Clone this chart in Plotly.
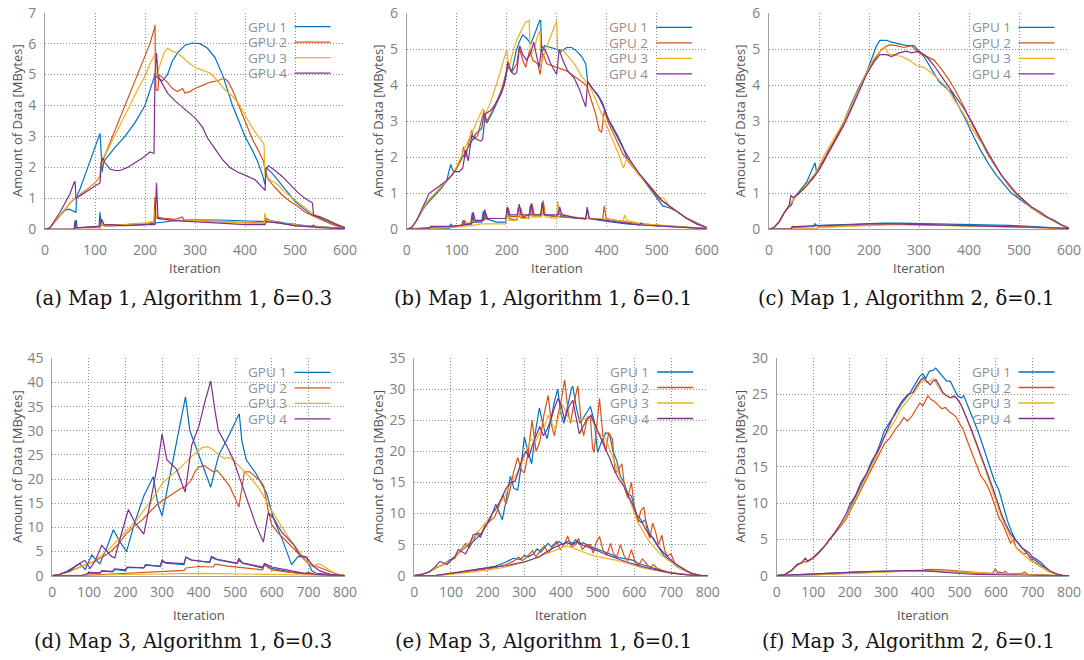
import plotly.graph_objects as go

# ---------------- DATA (iteration, MBytes) ----------------
GPU_LABELS = ["GPU 1", "GPU 2", "GPU 3", "GPU 4"]
CAPTIONS = [
    "(a) Map 1, Algorithm 1, δ=0.3",
    "(b) Map 1, Algorithm 1, δ=0.1",
    "(c) Map 1, Algorithm 2, δ=0.1",
    "(d) Map 3, Algorithm 1, δ=0.3",
    "(e) Map 3, Algorithm 1, δ=0.1",
    "(f) Map 3, Algorithm 2, δ=0.1",
]
X_TITLE = "Iteration"
Y_TITLE = "Amount of Data [MBytes]"
X_MAX = [600, 600, 600, 800, 800, 800]
Y_MAX = [7, 6, 6, 45, 35, 30]
Y_DTICK = [1, 1, 1, 5, 5, 5]
X_DTICK = [100, 100, 100, 100, 100, 100]

# ---- (a) ----
a_g1_main = [(0,0),(10,0.05),(20,0.25),(30,0.45),(40,0.62),(48,0.65),(55,0.6),(62,0.55),(63,1.05),(70,1.3),(80,1.75),(90,2.2),(100,2.65),(110,3.1),(112,2.6),(114,1.85),(118,2.2),(125,2.35),(140,2.65),(160,3.0),(180,3.45),(200,4.0),(212,4.6),(220,5.0),(225,4.9),(235,4.8),(245,5.0),(255,5.45),(265,5.7),(280,5.95),(295,6.02),(310,6.0),(325,5.85),(340,5.55),(355,5.0),(365,4.5),(375,4.0),(390,3.4),(400,3.0),(415,2.55),(425,2.2),(435,1.75),(440,1.45),(442,2.0),(455,1.8),(470,1.5),(485,1.2),(500,0.9),(515,0.7),(530,0.5),(545,0.4),(560,0.3),(575,0.18),(590,0.1),(600,0.05)]
a_g2_main = [(0,0),(10,0.05),(20,0.25),(30,0.45),(40,0.65),(50,0.85),(60,1.0),(80,1.25),(100,1.5),(110,1.7),(112,2.15),(115,2.2),(120,2.4),(130,2.8),(140,3.2),(150,3.6),(160,4.0),(170,4.4),(180,4.8),(190,5.2),(200,5.6),(210,6.0),(218,6.45),(220,6.6),(221,5.0),(222,4.5),(226,4.5),(228,5.0),(235,4.9),(245,4.75),(255,4.55),(265,4.45),(275,4.55),(280,4.4),(290,4.45),(300,4.55),(315,4.65),(330,4.75),(345,4.8),(358,4.88),(365,4.8),(375,4.5),(385,4.1),(395,3.7),(405,3.25),(415,2.9),(425,2.6),(437,2.2),(440,1.9),(447,1.6),(460,1.35),(475,1.1),(490,0.9),(505,0.75),(520,0.55),(540,0.4),(560,0.25),(575,0.15),(590,0.08),(600,0.05)]
a_g3_main = [(0,0),(10,0.05),(20,0.25),(30,0.45),(40,0.65),(50,0.85),(60,1.0),(80,1.25),(100,1.5),(110,1.7),(115,2.3),(125,2.55),(140,3.05),(155,3.5),(170,4.0),(185,4.5),(200,4.95),(210,5.35),(218,5.6),(220,5.65),(222,4.95),(230,5.3),(238,5.7),(245,5.85),(255,5.75),(265,5.7),(275,5.55),(290,5.35),(305,5.2),(320,5.1),(330,5.05),(345,4.8),(360,4.5),(375,4.3),(390,4.0),(405,3.55),(420,3.15),(438,2.75),(440,1.75),(450,1.6),(465,1.45),(480,1.2),(500,0.95),(520,0.7),(535,0.5),(550,0.4),(565,0.3),(580,0.18),(600,0.05)]
a_g4_main = [(0,0),(10,0.05),(20,0.3),(30,0.55),(40,0.85),(50,1.15),(58,1.5),(60,1.55),(62,1.0),(80,1.2),(100,1.4),(110,1.5),(113,2.2),(116,2.3),(120,2.15),(130,1.95),(140,1.9),(150,1.9),(165,2.0),(180,2.15),(195,2.3),(210,2.5),(218,2.45),(220,5.0),(223,5.7),(226,4.95),(235,4.7),(245,4.4),(260,4.15),(275,3.95),(290,3.75),(300,3.6),(315,3.3),(325,2.95),(340,2.6),(355,2.25),(370,2.0),(385,1.85),(400,1.75),(420,1.6),(438,1.3),(440,1.25),(442,1.95),(447,2.05),(460,1.9),(475,1.7),(490,1.45),(505,1.2),(520,1.0),(535,0.85),(537,0.45),(550,0.4),(565,0.3),(580,0.18),(600,0.05)]
a_g1_small = [(0,0),(60,0),(61,0.27),(63,0.27),(64,0.05),(108,0.08),(110,0.55),(112,0.15),(120,0.1),(160,0.12),(200,0.15),(218,0.2),(220,0.2),(230,0.22),(260,0.28),(300,0.3),(350,0.3),(400,0.28),(440,0.25),(442,0.35),(450,0.28),(480,0.2),(520,0.12),(560,0.07),(600,0.03)]
a_g2_small = [(0,0),(110,0),(113,0.3),(118,0.15),(160,0.15),(200,0.2),(218,0.25),(220,1.05),(222,0.4),(240,0.35),(260,0.32),(275,0.4),(278,0.3),(300,0.3),(350,0.25),(400,0.22),(438,0.2),(440,0.45),(443,0.25),(470,0.2),(500,0.12),(540,0.07),(600,0.03)]
a_g3_small = [(0,0),(110,0),(113,0.2),(118,0.1),(160,0.15),(200,0.2),(218,0.25),(220,0.6),(223,0.35),(260,0.3),(300,0.28),(350,0.25),(400,0.2),(438,0.18),(440,0.52),(443,0.3),(470,0.2),(500,0.15),(540,0.08),(600,0.03)]
a_g4_small = [(0,0),(58,0),(60,0.28),(62,0.05),(110,0.1),(113,0.33),(118,0.15),(160,0.12),(200,0.15),(220,0.15),(223,1.5),(226,0.35),(260,0.28),(300,0.25),(350,0.2),(400,0.15),(440,0.15),(443,0.25),(470,0.2),(500,0.12),(535,0.08),(537,0.15),(540,0.06),(600,0.02)]

# ---- (b) ----
b_g1_main = [(0,0),(10,0.05),(20,0.25),(30,0.5),(40,0.7),(50,0.85),(60,1.0),(70,1.15),(80,1.35),(88,1.8),(92,1.65),(96,1.6),(105,1.85),(112,2.0),(120,2.2),(128,2.4),(138,2.65),(150,2.8),(155,3.25),(160,2.95),(170,3.2),(180,3.5),(190,3.8),(198,4.2),(203,4.6),(210,4.35),(218,4.9),(225,5.2),(232,5.4),(240,5.3),(248,5.15),(258,5.5),(266,5.8),(268,5.8),(270,4.9),(276,5.1),(290,5.05),(300,5.0),(310,4.95),(320,5.05),(330,5.05),(340,4.95),(350,4.8),(358,4.6),(362,4.1),(372,3.9),(382,3.75),(392,3.5),(402,3.1),(412,2.85),(422,2.6),(432,2.3),(440,2.0),(450,1.8),(460,1.6),(472,1.4),(485,1.15),(500,0.85),(512,0.65),(525,0.6),(540,0.5),(555,0.35),(570,0.25),(585,0.15),(600,0.05)]
b_g2_main = [(0,0),(10,0.05),(20,0.25),(30,0.5),(40,0.75),(50,0.9),(60,1.05),(70,1.2),(80,1.35),(90,1.5),(100,1.7),(108,1.9),(114,2.3),(118,2.0),(124,2.4),(130,2.75),(134,2.5),(142,2.6),(150,3.05),(155,3.3),(160,3.0),(170,3.25),(180,3.55),(190,3.9),(198,4.3),(203,4.5),(212,4.4),(220,4.6),(225,5.05),(232,4.7),(238,4.5),(246,5.0),(252,4.7),(262,4.6),(267,4.3),(272,4.9),(280,4.6),(290,4.55),(300,4.5),(310,4.45),(320,4.4),(330,4.3),(340,4.2),(350,4.1),(360,4.0),(370,3.55),(378,3.2),(385,2.75),(390,2.7),(395,3.3),(402,3.0),(412,2.7),(422,2.4),(432,2.1),(445,1.85),(460,1.6),(475,1.35),(490,1.1),(505,0.85),(520,0.7),(540,0.5),(560,0.3),(580,0.15),(600,0.05)]
b_g3_main = [(0,0),(10,0.05),(20,0.25),(30,0.5),(40,0.75),(50,0.9),(60,1.05),(70,1.2),(80,1.35),(90,1.5),(100,1.75),(110,2.05),(118,2.3),(126,2.55),(135,2.8),(145,3.1),(152,3.35),(158,3.2),(165,3.45),(172,3.7),(180,4.05),(188,4.4),(195,4.75),(200,5.0),(205,4.5),(212,4.9),(220,5.25),(230,5.55),(238,5.75),(245,5.8),(247,4.8),(255,5.0),(262,5.4),(266,5.5),(270,4.6),(278,5.0),(287,5.35),(295,5.65),(300,5.8),(302,4.95),(310,5.0),(320,4.85),(335,4.6),(350,4.25),(365,4.0),(378,3.6),(390,3.2),(402,2.8),(415,2.4),(425,2.05),(433,1.7),(440,1.95),(450,1.8),(465,1.5),(480,1.3),(495,1.05),(505,0.9),(515,0.85),(525,0.65),(540,0.5),(555,0.35),(575,0.2),(600,0.05)]
b_g4_main = [(0,0),(10,0.05),(20,0.25),(30,0.55),(38,0.8),(45,1.0),(55,1.1),(65,1.2),(80,1.35),(90,1.5),(95,1.6),(105,1.6),(112,1.7),(118,2.2),(123,1.9),(130,2.6),(140,2.5),(148,2.45),(152,2.5),(157,3.2),(168,3.3),(178,3.5),(188,3.75),(195,4.0),(202,4.65),(208,4.4),(215,4.3),(220,4.35),(226,5.1),(232,4.85),(240,4.7),(248,4.9),(254,5.2),(260,4.8),(265,4.5),(270,5.1),(278,4.95),(288,4.6),(300,4.3),(305,5.0),(312,4.7),(322,4.4),(335,4.2),(345,3.9),(352,3.6),(358,3.4),(362,4.1),(372,3.9),(385,3.65),(395,3.35),(405,3.0),(420,2.6),(435,2.2),(450,1.85),(465,1.55),(480,1.3),(495,1.05),(510,0.8),(525,0.65),(540,0.5),(560,0.3),(580,0.15),(600,0.05)]
b_g1_small = [(0,0),(85,0.02),(88,0.15),(92,0.08),(110,0.1),(113,0.25),(117,0.12),(128,0.15),(131,0.45),(135,0.2),(150,0.2),(153,0.5),(157,0.3),(180,0.2),(198,0.2),(201,0.55),(205,0.3),(220,0.25),(223,0.6),(227,0.35),(244,0.3),(247,0.65),(251,0.35),(268,0.35),(271,0.7),(275,0.4),(300,0.35),(304,0.55),(308,0.35),(340,0.3),(358,0.28),(361,0.55),(365,0.3),(400,0.22),(440,0.15),(470,0.12),(500,0.1),(530,0.08),(560,0.05),(600,0.02)]
b_g2_small = [(0,0),(40,0.05),(90,0.05),(112,0.1),(115,0.25),(120,0.15),(135,0.2),(155,0.25),(158,0.45),(162,0.3),(200,0.3),(203,0.6),(207,0.35),(225,0.35),(228,0.6),(232,0.35),(248,0.4),(251,0.7),(255,0.4),(270,0.4),(273,0.8),(277,0.4),(300,0.35),(330,0.32),(360,0.3),(392,0.28),(395,0.65),(399,0.3),(420,0.25),(450,0.18),(500,0.12),(550,0.07),(600,0.02)]
b_g3_small = [(0,0),(90,0.05),(130,0.1),(150,0.15),(175,0.15),(198,0.15),(201,0.45),(205,0.25),(220,0.25),(224,0.55),(228,0.3),(245,0.3),(248,0.6),(252,0.35),(270,0.35),(273,0.6),(277,0.35),(300,0.3),(302,0.78),(306,0.45),(330,0.35),(360,0.3),(400,0.28),(433,0.22),(436,0.4),(440,0.25),(470,0.15),(520,0.1),(560,0.06),(600,0.02)]
b_g4_small = [(0,0),(45,0.02),(48,0.08),(90,0.08),(110,0.12),(130,0.15),(133,0.48),(137,0.25),(153,0.25),(156,0.55),(160,0.3),(198,0.3),(201,0.62),(205,0.4),(222,0.4),(225,0.7),(229,0.4),(246,0.4),(249,0.72),(253,0.4),(268,0.4),(271,0.75),(275,0.4),(303,0.4),(306,0.62),(310,0.4),(340,0.32),(358,0.3),(361,0.62),(365,0.3),(400,0.25),(440,0.18),(466,0.12),(469,0.18),(472,0.12),(520,0.08),(600,0.02)]

# ---- (c) ----
c_g1_main = [(0,0),(10,0.05),(20,0.2),(30,0.45),(40,0.62),(45,0.68),(48,0.8),(60,1.05),(75,1.3),(85,1.6),(92,1.85),(95,1.6),(100,1.65),(110,1.9),(120,2.2),(135,2.55),(150,3.0),(165,3.5),(180,3.95),(195,4.35),(205,4.75),(215,5.1),(222,5.25),(235,5.25),(245,5.2),(260,5.15),(275,5.1),(290,5.1),(300,4.95),(310,4.8),(325,4.45),(340,4.1),(352,3.95),(365,3.8),(380,3.4),(395,3.0),(410,2.55),(425,2.15),(440,1.8),(455,1.5),(470,1.25),(485,1.0),(500,0.85),(515,0.7),(530,0.55),(545,0.45),(560,0.3),(575,0.18),(590,0.08),(600,0.03)]
c_g2_main = [(0,0),(10,0.05),(20,0.2),(30,0.45),(40,0.65),(50,0.85),(60,1.0),(75,1.25),(90,1.5),(100,1.7),(110,1.95),(120,2.2),(135,2.55),(150,2.95),(165,3.4),(180,3.9),(195,4.35),(210,4.7),(225,5.0),(240,5.12),(255,5.1),(270,5.05),(285,5.1),(300,4.9),(315,4.8),(330,4.7),(345,4.45),(360,4.15),(375,3.8),(390,3.4),(405,2.95),(420,2.55),(435,2.15),(450,1.8),(465,1.5),(480,1.2),(495,0.95),(510,0.8),(525,0.6),(540,0.45),(555,0.33),(570,0.25),(585,0.12),(600,0.03)]
c_g3_main = [(0,0),(10,0.05),(20,0.2),(30,0.45),(40,0.65),(50,0.85),(60,1.0),(75,1.25),(90,1.45),(100,1.75),(110,2.05),(125,2.4),(135,2.65),(150,3.0),(165,3.45),(180,3.9),(195,4.35),(210,4.75),(222,4.95),(232,5.05),(240,4.85),(250,4.85),(265,4.8),(280,4.7),(295,4.55),(310,4.5),(325,4.35),(340,4.15),(355,3.95),(370,3.6),(385,3.3),(400,2.95),(415,2.6),(430,2.3),(445,1.95),(460,1.6),(475,1.3),(490,1.05),(505,0.85),(520,0.65),(535,0.5),(550,0.38),(565,0.25),(580,0.15),(600,0.03)]
c_g4_main = [(0,0),(10,0.05),(20,0.2),(30,0.45),(40,0.65),(44,0.95),(48,0.88),(60,1.0),(75,1.2),(90,1.45),(100,1.65),(110,1.9),(120,2.15),(135,2.5),(150,2.9),(165,3.35),(180,3.85),(195,4.3),(210,4.65),(222,4.85),(235,4.85),(245,4.8),(260,4.9),(275,4.95),(285,4.9),(300,4.95),(315,4.8),(330,4.55),(345,4.25),(360,3.95),(375,3.65),(390,3.35),(405,3.0),(420,2.6),(435,2.2),(450,1.85),(465,1.5),(480,1.25),(495,1.0),(510,0.8),(525,0.62),(540,0.5),(555,0.35),(570,0.25),(585,0.12),(600,0.03)]
c_g1_small = [(0,0),(45,0.01),(47,0.08),(50,0.06),(90,0.07),(92,0.16),(96,0.1),(130,0.12),(170,0.14),(200,0.16),(230,0.17),(260,0.17),(300,0.16),(350,0.15),(400,0.13),(450,0.12),(480,0.11),(520,0.08),(560,0.05),(600,0.02)]
c_g2_small = [(0,0),(95,0.01),(98,0.06),(150,0.09),(200,0.12),(250,0.14),(300,0.12),(350,0.1),(400,0.09),(450,0.08),(500,0.07),(550,0.05),(600,0.02)]
c_g3_small = [(0,0),(95,0.01),(98,0.05),(150,0.08),(200,0.11),(250,0.13),(300,0.12),(350,0.11),(400,0.09),(450,0.08),(500,0.06),(550,0.04),(600,0.02)]
c_g4_small = [(0,0),(44,0.01),(46,0.07),(90,0.08),(92,0.1),(150,0.12),(200,0.15),(250,0.15),(300,0.14),(350,0.12),(400,0.1),(450,0.08),(500,0.07),(550,0.05),(600,0.02)]

# ---- (d) ----
d_g1_main = [(0,0),(20,0.3),(40,0.9),(60,1.8),(75,2.5),(90,1.3),(108,4.3),(120,3.2),(130,2.5),(150,6.0),(167,9.5),(185,7.0),(203,5.0),(225,11.0),(250,16.5),(276,20.5),(288,15.0),(300,12.4),(320,20.0),(340,28.0),(364,37.0),(376,30.0),(400,25.0),(420,21.0),(433,18.3),(445,22.0),(455,25.0),(476,28.0),(495,31.0),(511,33.5),(518,28.0),(530,24.0),(558,21.0),(586,17.0),(604,12.0),(631,7.0),(654,2.3),(672,4.0),(695,3.8),(709,1.0),(722,0.5),(760,0.2),(800,0)]
d_g2_main = [(0,0),(20,0.2),(50,1.0),(85,2.0),(115,3.0),(140,4.0),(160,5.0),(180,6.5),(200,8.5),(220,10.0),(245,11.5),(270,13.5),(290,15.0),(310,16.0),(330,17.0),(350,18.0),(365,18.5),(380,19.8),(390,21.5),(400,22.5),(415,22.8),(430,22.0),(440,21.5),(450,21.8),(465,20.5),(485,18.5),(500,16.0),(510,14.2),(518,18.0),(525,21.5),(540,21.5),(555,20.5),(570,19.5),(578,18.5),(590,13.5),(600,10.5),(615,9.0),(635,7.5),(655,6.0),(680,4.0),(700,2.5),(720,2.0),(750,1.0),(770,0.5),(800,0)]
d_g3_main = [(0,0),(20,0.2),(50,1.0),(85,2.0),(110,2.8),(130,4.0),(155,5.5),(180,7.5),(205,9.5),(230,11.5),(250,13.5),(275,16.0),(300,19.0),(320,20.5),(345,22.0),(365,23.5),(385,25.0),(410,26.5),(425,26.7),(440,26.0),(455,25.0),(470,24.3),(485,24.5),(500,23.5),(520,22.0),(545,20.0),(570,17.5),(595,14.0),(620,11.0),(645,8.0),(670,5.5),(690,3.5),(710,2.0),(730,2.5),(740,2.0),(760,1.0),(780,0.3),(800,0)]
d_g4_main = [(0,0),(20,0.3),(48,1.0),(70,2.3),(89,3.2),(103,1.5),(117,3.0),(135,6.3),(162,4.0),(171,3.7),(190,9.0),(208,13.7),(226,11.0),(250,8.6),(270,16.0),(290,24.0),(300,29.3),(313,24.0),(340,22.0),(355,19.0),(363,17.3),(381,27.0),(401,31.0),(417,36.0),(433,40.3),(445,34.0),(454,30.0),(476,27.0),(495,24.0),(513,20.0),(536,15.0),(559,10.0),(577,7.0),(590,13.0),(604,12.0),(627,9.0),(659,6.5),(677,4.2),(695,3.8),(713,2.0),(731,1.0),(760,0.3),(800,0)]
d_g1_small = [(0,0),(80,0),(95,0.3),(100,0.6),(130,0.5),(135,1.0),(165,0.8),(170,1.3),(200,1.0),(205,1.7),(250,1.6),(255,2.3),(295,1.9),(300,3.0),(310,2.6),(360,2.3),(365,3.9),(380,3.3),(430,2.7),(435,3.8),(450,3.3),(505,2.5),(510,3.6),(520,2.6),(575,1.6),(580,2.3),(600,1.5),(650,0.8),(690,0.4),(700,0.6),(720,0.2),(760,0.05),(800,0)]
d_g2_small = [(0,0),(90,0.05),(150,0.3),(200,0.5),(250,0.7),(300,0.9),(360,1.1),(365,1.6),(400,1.9),(440,1.8),(445,2.4),(480,2.0),(540,1.5),(575,1.2),(580,2.2),(600,1.2),(650,0.7),(700,0.3),(750,0.1),(800,0)]
d_g3_small = [(0,0),(90,0.02),(150,0.15),(200,0.25),(300,0.4),(400,0.5),(450,0.45),(500,0.35),(600,0.2),(700,0.1),(800,0)]
d_g4_small = [(0,0),(80,0),(95,0.4),(100,0.7),(130,0.6),(135,1.0),(165,0.9),(170,1.4),(200,1.2),(205,1.8),(250,1.6),(255,2.2),(295,2.0),(300,3.2),(310,2.7),(360,2.5),(365,3.8),(380,3.2),(430,2.8),(435,4.0),(450,3.4),(505,2.6),(510,3.2),(520,2.6),(575,1.8),(580,2.5),(600,1.8),(650,1.0),(690,0.5),(700,0.6),(720,0.3),(760,0.05),(800,0)]

# ---- (e) ----
e_g1_main = [(0,0),(20,0.2),(40,0.6),(60,1.3),(80,1.8),(95,2.5),(110,3.0),(125,3.8),(140,4.6),(155,5.2),(170,6.0),(185,7.0),(200,8.5),(210,9.5),(222,11.5),(230,10.5),(240,9.0),(250,12.0),(262,16.0),(272,14.0),(282,13.8),(290,17.0),(300,22.3),(310,20.0),(320,18.0),(330,23.0),(341,27.0),(352,24.0),(362,22.0),(372,25.0),(382,28.0),(391,30.0),(400,26.0),(408,24.5),(418,27.5),(428,30.0),(432,30.5),(442,27.0),(452,24.5),(462,25.5),(472,26.5),(480,27.2),(490,25.0),(500,19.8),(510,21.5),(522,23.0),(532,22.8),(542,20.0),(552,18.5),(562,16.0),(572,15.0),(582,13.2),(592,12.8),(600,11.0),(610,9.0),(620,8.5),(630,9.0),(640,7.0),(650,6.0),(660,5.0),(670,4.2),(680,3.3),(690,2.8),(700,2.2),(715,1.5),(730,1.0),(745,0.6),(760,0.3),(780,0.05),(800,0)]
e_g2_main = [(0,0),(20,0.2),(40,0.6),(60,1.3),(80,1.8),(95,2.3),(110,2.8),(125,4.0),(140,5.2),(150,4.5),(160,5.5),(172,7.0),(182,6.5),(192,8.0),(200,8.5),(210,9.0),(220,9.5),(232,11.5),(242,13.0),(250,11.5),(260,13.5),(270,16.5),(282,19.0),(292,17.0),(300,16.5),(310,19.5),(321,25.0),(332,20.0),(342,21.5),(354,26.0),(365,29.0),(375,24.0),(382,22.5),(392,26.0),(400,28.0),(410,31.5),(420,26.0),(426,24.5),(436,28.0),(446,30.5),(456,24.0),(462,22.5),(472,25.5),(480,25.5),(486,20.5),(490,19.8),(500,26.0),(505,28.5),(515,22.0),(522,20.0),(530,23.0),(540,22.0),(548,16.5),(556,17.0),(566,18.0),(574,14.0),(582,12.5),(592,15.0),(600,11.0),(610,8.5),(618,10.5),(626,11.0),(634,7.5),(642,6.0),(650,8.5),(658,7.0),(666,5.0),(675,6.5),(683,4.0),(690,3.2),(700,3.5),(710,2.0),(720,1.5),(735,1.0),(750,0.5),(770,0.1),(800,0)]
e_g3_main = [(0,0),(20,0.2),(40,0.6),(60,1.3),(80,1.8),(100,2.5),(120,3.5),(140,4.8),(160,6.0),(180,7.5),(200,9.0),(215,10.0),(230,11.5),(245,12.5),(260,14.5),(275,16.0),(290,17.5),(305,20.0),(318,22.0),(330,21.5),(342,23.0),(355,24.0),(365,25.8),(375,24.5),(385,23.5),(395,26.0),(405,27.5),(415,26.0),(425,25.0),(440,24.8),(455,25.0),(470,25.3),(482,25.5),(495,23.5),(510,22.5),(522,22.0),(535,20.0),(548,18.0),(560,16.0),(572,14.5),(585,12.5),(598,10.5),(610,8.5),(625,7.0),(640,5.5),(655,4.5),(670,3.5),(685,2.8),(700,2.2),(715,1.5),(730,1.0),(745,0.6),(760,0.3),(780,0.05),(800,0)]
e_g4_main = [(0,0),(20,0.2),(40,0.6),(55,1.3),(70,2.3),(80,2.0),(90,1.8),(100,2.5),(110,3.0),(120,4.2),(130,3.8),(140,3.5),(150,4.8),(160,6.5),(170,6.8),(180,6.2),(190,7.5),(200,8.5),(212,10.0),(225,11.0),(238,12.5),(250,14.0),(262,15.0),(275,15.2),(285,17.0),(295,19.0),(305,20.0),(312,19.0),(322,21.0),(332,22.5),(342,24.0),(352,22.5),(362,23.5),(372,25.0),(382,27.0),(392,28.5),(400,27.5),(410,25.0),(420,27.0),(432,28.2),(440,25.5),(450,22.8),(460,24.0),(470,25.0),(482,25.8),(495,24.0),(508,22.0),(520,20.5),(532,19.0),(545,17.0),(558,15.5),(570,14.5),(582,13.0),(595,11.5),(605,10.0),(618,9.0),(630,7.5),(642,6.5),(652,6.0),(662,5.0),(675,4.0),(688,3.2),(700,2.5),(715,1.8),(730,1.2),(745,0.7),(760,0.3),(780,0.05),(800,0)]
e_g1_small = [(0,0),(60,0.05),(100,0.3),(140,0.7),(180,1.0),(220,1.5),(250,2.2),(270,2.8),(290,2.6),(300,3.3),(310,3.0),(325,3.5),(335,4.3),(345,3.8),(355,4.5),(365,5.2),(375,4.6),(385,5.0),(395,5.5),(405,5.0),(420,5.6),(432,5.2),(440,5.8),(450,5.0),(460,5.3),(475,4.8),(490,4.5),(505,4.2),(520,3.8),(535,3.5),(550,3.0),(565,2.8),(580,2.7),(595,2.5),(610,2.0),(630,1.6),(650,1.2),(670,0.9),(690,0.6),(710,0.4),(740,0.15),(770,0.02),(800,0)]
e_g2_small = [(0,0),(60,0.05),(100,0.3),(140,0.6),(180,0.9),(220,1.3),(250,1.8),(270,2.3),(285,3.0),(295,2.4),(310,3.2),(322,4.0),(332,3.0),(345,4.2),(355,4.8),(365,3.6),(378,4.8),(388,5.6),(398,4.2),(410,5.2),(418,6.4),(428,4.6),(440,5.0),(448,6.0),(458,4.2),(470,5.0),(480,5.0),(488,3.6),(497,5.5),(505,6.3),(515,4.0),(525,3.3),(535,5.2),(543,3.6),(552,3.0),(562,5.0),(572,3.2),(582,2.4),(592,4.2),(600,2.6),(610,1.6),(622,2.7),(632,2.0),(642,1.3),(652,1.8),(662,1.2),(675,0.9),(690,0.6),(710,0.4),(740,0.15),(770,0.02),(800,0)]
e_g3_small = [(0,0),(60,0.02),(100,0.2),(150,0.5),(200,0.9),(250,1.4),(290,2.0),(320,2.6),(350,3.3),(380,4.0),(400,4.5),(415,4.8),(430,4.5),(450,4.0),(470,3.6),(490,3.2),(510,2.9),(530,2.7),(550,2.5),(570,2.2),(590,1.8),(620,1.3),(650,0.9),(680,0.6),(710,0.35),(740,0.15),(770,0.02),(800,0)]
e_g4_small = [(0,0),(60,0.05),(100,0.4),(140,0.8),(180,1.1),(220,1.4),(250,1.6),(280,2.0),(300,2.2),(320,2.6),(340,3.0),(360,3.8),(380,4.5),(400,5.0),(415,5.3),(430,5.0),(445,5.5),(460,4.9),(480,4.5),(500,4.0),(520,3.5),(540,3.0),(560,2.6),(580,2.2),(600,1.8),(620,1.5),(640,1.2),(660,0.9),(680,0.6),(700,0.4),(730,0.2),(760,0.05),(800,0)]

# ---- (f) ----
f_g1_main = [(0,0),(20,0.1),(40,0.7),(55,1.5),(70,1.8),(85,2.0),(100,2.5),(115,3.2),(130,4.0),(145,5.0),(160,6.0),(175,7.0),(190,8.0),(205,9.8),(220,11.3),(235,12.8),(250,14.3),(265,16.0),(280,17.8),(295,20.0),(310,21.2),(325,22.3),(340,23.6),(355,24.5),(365,25.2),(380,26.5),(392,27.5),(400,27.8),(408,27.2),(418,28.2),(428,28.3),(435,28.6),(445,28.0),(455,27.3),(465,26.8),(475,26.8),(485,25.8),(495,24.8),(505,24.5),(512,24.8),(520,23.8),(535,22.0),(550,20.0),(565,17.8),(580,15.5),(595,13.2),(608,11.8),(620,9.5),(632,7.5),(645,5.8),(655,4.8),(668,4.0),(680,3.3),(692,2.7),(705,2.2),(715,1.8),(730,1.2),(745,0.7),(760,0.3),(780,0.05),(800,0)]
f_g2_main = [(0,0),(20,0.1),(40,0.7),(55,1.4),(70,1.8),(85,2.0),(100,2.4),(115,3.1),(130,4.0),(145,4.9),(160,5.8),(175,6.8),(190,7.8),(205,9.3),(220,10.8),(235,12.2),(250,13.6),(265,15.2),(280,16.8),(295,18.2),(310,19.0),(325,20.2),(338,21.0),(348,21.8),(358,21.3),(370,22.0),(382,23.0),(392,23.8),(400,23.4),(408,24.2),(414,24.8),(422,24.3),(432,24.0),(442,23.5),(452,23.0),(462,23.2),(472,22.6),(482,22.3),(492,21.8),(500,21.0),(510,20.2),(520,18.8),(535,16.8),(548,15.0),(558,13.8),(570,13.0),(582,11.8),(595,10.0),(608,8.0),(618,7.2),(625,6.3),(632,5.3),(640,4.5),(648,5.0),(656,3.8),(665,3.5),(675,3.0),(685,3.1),(695,2.3),(705,1.8),(715,1.5),(730,1.0),(745,0.6),(760,0.3),(780,0.05),(800,0)]
f_g3_main = [(0,0),(20,0.1),(40,0.7),(55,1.5),(70,1.8),(85,1.9),(100,2.5),(115,3.2),(130,4.0),(145,5.0),(160,6.0),(175,7.0),(190,8.0),(205,9.5),(220,11.0),(235,12.5),(250,14.0),(265,15.6),(280,17.3),(295,19.2),(310,20.3),(325,21.5),(340,23.0),(355,24.0),(368,24.8),(380,25.5),(392,26.5),(402,27.0),(412,26.6),(422,27.0),(430,27.2),(440,26.2),(452,25.3),(465,24.8),(478,24.5),(490,24.6),(500,24.0),(512,22.8),(525,21.0),(540,19.0),(555,17.0),(570,14.8),(585,12.5),(600,10.2),(612,8.5),(625,7.0),(638,5.5),(650,4.3),(662,3.5),(675,3.0),(685,2.5),(695,2.0),(710,1.8),(720,1.3),(735,0.9),(750,0.5),(765,0.2),(785,0.03),(800,0)]
f_g4_main = [(0,0),(20,0.1),(40,0.7),(55,1.5),(70,1.9),(78,2.4),(85,2.0),(100,2.5),(115,3.2),(130,4.0),(145,5.0),(160,6.0),(175,7.2),(190,8.5),(200,9.8),(215,11.0),(230,12.8),(245,14.0),(260,15.8),(275,17.0),(285,18.0),(300,19.8),(315,21.5),(330,23.0),(345,24.2),(360,25.0),(372,25.2),(385,26.3),(395,27.0),(402,27.3),(412,26.8),(420,26.3),(428,26.8),(436,27.0),(445,26.2),(455,25.2),(465,24.8),(475,24.5),(485,24.8),(495,24.3),(505,23.5),(518,22.0),(530,20.5),(545,18.5),(560,16.5),(575,14.5),(590,12.3),(602,10.5),(615,8.5),(628,7.0),(640,5.8),(652,5.0),(662,4.5),(672,3.8),(682,3.5),(690,3.2),(700,2.6),(712,2.2),(722,1.9),(735,1.2),(750,0.6),(765,0.25),(785,0.03),(800,0)]
f_g1_small = [(0,0),(20,0.05),(60,0.2),(100,0.3),(150,0.38),(200,0.45),(250,0.55),(300,0.62),(350,0.68),(400,0.7),(450,0.6),(500,0.45),(550,0.35),(600,0.3),(610,0.5),(620,0.3),(650,0.22),(700,0.12),(750,0.05),(800,0)]
f_g2_small = [(0,0),(40,0.02),(100,0.1),(150,0.2),(200,0.3),(250,0.4),(300,0.5),(350,0.65),(400,0.78),(420,0.88),(440,0.85),(460,0.8),(500,0.62),(540,0.45),(590,0.3),(598,0.9),(606,0.45),(615,0.3),(625,0.6),(632,0.3),(650,0.25),(670,0.3),(678,0.5),(686,0.2),(700,0.15),(750,0.05),(800,0)]
f_g3_small = [(0,0),(40,0.02),(100,0.12),(150,0.2),(200,0.3),(250,0.42),(300,0.55),(350,0.65),(400,0.7),(450,0.62),(500,0.5),(550,0.38),(600,0.28),(650,0.2),(700,0.1),(750,0.04),(800,0)]
f_g4_small = [(0,0),(20,0.05),(60,0.2),(100,0.3),(150,0.38),(200,0.45),(250,0.55),(300,0.65),(350,0.7),(400,0.7),(450,0.45),(500,0.3),(550,0.18),(600,0.12),(650,0.08),(700,0.05),(750,0.02),(800,0)]

MAIN = [
    [a_g1_main, a_g2_main, a_g3_main, a_g4_main],
    [b_g1_main, b_g2_main, b_g3_main, b_g4_main],
    [c_g1_main, c_g2_main, c_g3_main, c_g4_main],
    [d_g1_main, d_g2_main, d_g3_main, d_g4_main],
    [e_g1_main, e_g2_main, e_g3_main, e_g4_main],
    [f_g1_main, f_g2_main, f_g3_main, f_g4_main],
]
SMALL = [
    [a_g1_small, a_g2_small, a_g3_small, a_g4_small],
    [b_g1_small, b_g2_small, b_g3_small, b_g4_small],
    [c_g1_small, c_g2_small, c_g3_small, c_g4_small],
    [d_g1_small, d_g2_small, d_g3_small, d_g4_small],
    [e_g1_small, e_g2_small, e_g3_small, e_g4_small],
    [f_g1_small, f_g2_small, f_g3_small, f_g4_small],
]

# ---------------- STYLE / LAYOUT ----------------
W, H = 1084, 660
COLORS = ["#0072BD", "#D95319", "#EDB120", "#7E2F8E"]
# plot-area boxes in screen pixels: (left, right, top, bottom)
BOXES = [
    (45.0, 345.0, 12.7, 229.3),
    (406.7, 706.7, 13.3, 229.3),
    (769.0, 1069.0, 13.3, 229.3),
    (52.3, 345.0, 358.3, 575.7),
    (414.3, 707.7, 358.0, 575.7),
    (776.7, 1069.0, 358.0, 575.7),
]
YTITLE_X = [17, 378, 740, 17, 378, 740]
XTITLE_Y = [268, 268, 268, 615, 615, 615]
CAPTION_POS = [(183, 298), (543, 298), (906, 298), (183, 641), (543, 641), (908, 641)]
TICK_STANDOFF = [8, 8, 8, 3, 3, 3]

GRID = "#8c8c8c"
AXLINE = "#a0a0a0"
TICKCOL = "#808080"
SANS = "Open Sans"


def px(x):
    return x / W


def py(y):
    return 1 - y / H


fig = go.Figure()
annotations = []
shapes = []

for i in range(6):
    n = "" if i == 0 else str(i + 1)
    xa, ya = "x" + n, "y" + n
    L, R, T, B = BOXES[i]
    w, h = R - L, B - T
    for g in range(4):
        for series in (MAIN[i][g], SMALL[i][g]):
            fig.add_trace(go.Scatter(
                x=[p[0] for p in series], y=[p[1] for p in series],
                mode="lines", line=dict(color=COLORS[g], width=1.2),
                xaxis=xa, yaxis=ya, showlegend=False, hoverinfo="skip"))
    axis_common = dict(
        showgrid=True, gridcolor=GRID, griddash="1px,2px", gridwidth=1,
        showline=True, linecolor=AXLINE, linewidth=1, zeroline=False,
        ticks="", tickfont=dict(family=SANS, size=14, color=TICKCOL),
        ticklabeloverflow="allow",
        fixedrange=True, automargin=False)
    fig.update_layout(**{
        "xaxis" + n: dict(axis_common, domain=[px(L), px(R)], range=[0, X_MAX[i]],
                          tick0=0, dtick=X_DTICK[i], anchor=ya,
                          ticklabelstandoff=TICK_STANDOFF[i]),
        "yaxis" + n: dict(axis_common, domain=[py(B), py(T)], range=[0, Y_MAX[i]],
                          tick0=0, dtick=Y_DTICK[i], anchor=xa,
                          ticklabelstandoff=5),
    })
    # legend (gnuplot style: label then line sample)
    for g in range(4):
        yy = 1 - (14.0 + 15.5 * g) / h
        annotations.append(dict(
            xref=xa + " domain", yref=ya + " domain", x=1 - 56.5 / w, y=yy,
            xanchor="right", yanchor="middle", showarrow=False,
            text=GPU_LABELS[g], font=dict(family=SANS, size=13.5, color="#909090")))
        shapes.append(dict(
            type="line", xref=xa + " domain", yref=ya + " domain",
            x0=1 - 50.5 / w, x1=1 - 14.5 / w, y0=yy, y1=yy,
            line=dict(color=COLORS[g], width=1.3)))
    # axis titles
    annotations.append(dict(
        xref="paper", yref="paper", x=px(YTITLE_X[i]), y=py((T + B) / 2),
        xanchor="center", yanchor="middle", textangle=-90, showarrow=False,
        text=Y_TITLE, font=dict(family=SANS, size=13, color="#555555")))
    annotations.append(dict(
        xref="paper", yref="paper", x=px((L + R) / 2), y=py(XTITLE_Y[i]),
        xanchor="center", yanchor="middle", showarrow=False,
        text=X_TITLE, font=dict(family=SANS, size=13, color="#555555")))
    # caption
    cx, cy = CAPTION_POS[i]
    annotations.append(dict(
        xref="paper", yref="paper", x=px(cx), y=py(cy),
        xanchor="center", yanchor="middle", showarrow=False,
        text=CAPTIONS[i], font=dict(family="DejaVu Serif", size=19.5, color="#111111")))

fig.update_layout(
    width=W, height=H, margin=dict(l=0, r=0, t=0, b=0, autoexpand=False),
    paper_bgcolor="white", plot_bgcolor="white",
    annotations=annotations, shapes=shapes, showlegend=False)

# remove the default 8px page margin so the figure sits at the window origin
fig.write_html("out.html",
               config={"displayModeBar": False, "staticPlot": True},
               post_script="document.body.style.margin='0';document.body.style.overflow='hidden';")
